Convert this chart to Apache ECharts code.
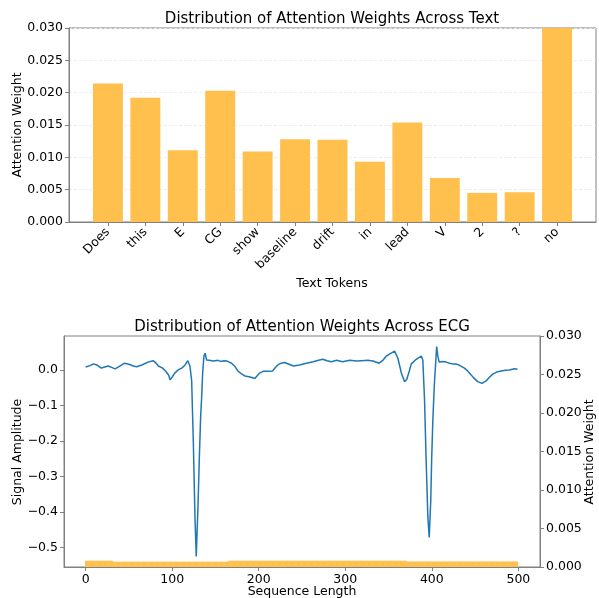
<!DOCTYPE html>
<html>
<head>
<meta charset="utf-8">
<script src="https://cdn.jsdelivr.net/npm/echarts@6/dist/echarts.min.js"></script>
<style>
  html, body { margin: 0; padding: 0; background: #ffffff; }
  #chart { width: 599px; height: 598px; }
</style>
</head>
<body>
<div id="chart"></div>
<script>
// ---- Text attention (top panel) ----
const tokens = ['Does', 'this', 'E', 'CG', 'show', 'baseline', 'drift', 'in', 'lead', 'V', '2', '?', 'no'];
const tokenWeights = [0.0214, 0.0192, 0.0111, 0.0203, 0.0109, 0.0128, 0.0127, 0.0093, 0.0154, 0.0068, 0.0045, 0.0046, 0.0452];
const tokenTicks = [0, 1, 2, 3, 4, 5, 6, 7, 8, 9, 10, 11, 12];
const weightTicks = [0, 0.005, 0.010, 0.015, 0.020, 0.025, 0.030];

// ---- ECG signal (bottom panel): [sample index, amplitude] ----
const ecgSamples = [
  [0, 0.008], [5, 0.012], [9, 0.017], [13, 0.014], [18, 0.005], [22, 0.008], [26, 0.011], [30, 0.007],
  [34, 0.003], [39, 0.010], [45, 0.019], [50, 0.016], [55, 0.011], [59, 0.009], [65, 0.014], [72, 0.022],
  [78, 0.026], [81, 0.020], [84, 0.011], [89, 0.005], [93, -0.005], [96, -0.015], [97.5, -0.028], [100, -0.020],
  [103, -0.009], [107, 0.000], [111, 0.005], [115, 0.014], [118, 0.026], [120.5, 0.011], [122.5, -0.030],
  [124.4, -0.200], [126.3, -0.413], [127.8, -0.526], [129.8, -0.385], [131.3, -0.254], [132.9, -0.131],
  [134, -0.080], [135.2, -0.009], [136.7, 0.040], [138, 0.047], [139.8, 0.028], [143, 0.027], [147, 0.025],
  [150, 0.026], [153, 0.027], [156, 0.024], [160, 0.026], [163, 0.025], [166, 0.022], [169, 0.018], [173, 0.008],
  [176, -0.003], [180, -0.011], [184, -0.017], [190, -0.020], [195.5, -0.024], [201, -0.009], [205, -0.004],
  [210, -0.004], [216, -0.003], [219, 0.006], [222, 0.014], [226, 0.019], [230, 0.021], [235, 0.016],
  [240, 0.011], [247, 0.014], [255, 0.019], [263, 0.023], [269, 0.027], [274, 0.030], [279, 0.026],
  [284, 0.023], [290, 0.027], [297, 0.023], [305, 0.027], [313, 0.025], [319, 0.026], [326, 0.027],
  [332, 0.025], [339, 0.019], [343, 0.026], [347, 0.038], [352, 0.046], [357, 0.053], [360.8, 0.033],
  [364.7, -0.008], [368.5, -0.033], [371, -0.027], [374, -0.003], [376.3, 0.017], [382, 0.030], [387.8, 0.039],
  [389.6, 0.028], [391.6, -0.085], [393.5, -0.260], [395.4, -0.413], [397, -0.472], [398.8, -0.366],
  [399.8, -0.254], [401.2, -0.140], [403, -0.038], [404.2, 0.010], [405.6, 0.066], [407, 0.038], [408.5, 0.022],
  [410, 0.024], [412.7, 0.024], [416.6, 0.022], [420.4, 0.019], [424, 0.017], [428, 0.017], [432, 0.013],
  [437.7, 0.005], [441, -0.002], [445.4, -0.014], [449, -0.024], [453, -0.033], [458, -0.038], [462.7, -0.031],
  [466, -0.022], [470.4, -0.012], [475, -0.006], [480, -0.003], [485, -0.001], [489.6, 0.000], [495.4, 0.003],
  [499, 0.002]
];
// attention per sequence position, stored as runs: [first index, last index, weight]
const seqAttentionRuns = [
  [0, 31, 0.00080],
  [32, 164, 0.00068],
  [165, 370, 0.00080],
  [371, 499, 0.00070]
];
const seqTicks = [0, 100, 200, 300, 400, 500];
const amplitudeTicks = [-0.5, -0.4, -0.3, -0.2, -0.1, 0.0];

// expand the attention runs into one bar per sequence position
const seqAttention = [];
seqAttentionRuns.forEach(([a, b, w]) => {
  for (let i = a; i <= b; i++) seqAttention.push([i, w]);
});

const FONT = 'DejaVu Sans';
const SPINE = '#808080';
const BAR_COLOR = 'rgb(255, 192, 77)';
const LINE_COLOR = '#1f77b4';
const TICK_FS = 12.5;

const minusFmt = (v, digits) => v.toFixed(digits).replace('-', '\u2212');

function axisBase() {
  return {
    axisLine: { show: true, onZero: false, lineStyle: { color: SPINE, width: 1 } },
    axisTick: { show: true, length: 4, inside: false, lineStyle: { color: SPINE, width: 1 } },
    axisLabel: { color: '#000', fontFamily: FONT, fontSize: TICK_FS },
    splitLine: { show: false }
  };
}

function label(text, x, y, rot, size) {
  return {
    type: 'text', x: x, y: y, rotation: rot || 0,
    style: {
      text: text, fill: '#000', font: (size || TICK_FS) + 'px "' + FONT + '"',
      align: 'center', verticalAlign: 'middle'
    }
  };
}

const chart = echarts.init(document.getElementById('chart'), null, { renderer: 'canvas' });

const option = {
  animation: false,
  backgroundColor: '#ffffff',
  grid: [
    { left: 69, right: 3, top: 28, bottom: 376, show: true, borderColor: SPINE, borderWidth: 1,
      backgroundColor: 'transparent', containLabel: false, outerBoundsMode: 'none' },
    { left: 64, right: 59, top: 336, bottom: 31, show: true, borderColor: SPINE, borderWidth: 1,
      backgroundColor: 'transparent', containLabel: false, outerBoundsMode: 'none' }
  ],
  xAxis: [
    Object.assign(axisBase(), {
      type: 'value', gridIndex: 0, min: -1.04, max: 13.04,
      axisTick: { show: true, length: 4, customValues: tokenTicks, lineStyle: { color: SPINE } },
      axisLabel: { color: '#000', fontFamily: FONT, fontSize: TICK_FS, rotate: 45, margin: 8,
        customValues: tokenTicks, formatter: v => tokens[Math.round(v)] }
    }),
    Object.assign(axisBase(), {
      type: 'value', gridIndex: 1, min: -25, max: 525,
      axisTick: { show: true, length: 4, customValues: seqTicks, lineStyle: { color: SPINE } },
      axisLabel: { color: '#000', fontFamily: FONT, fontSize: TICK_FS, margin: 6,
        customValues: seqTicks, formatter: v => String(Math.round(v)) }
    })
  ],
  yAxis: [
    Object.assign(axisBase(), {
      type: 'value', gridIndex: 0, min: 0, max: 0.03, interval: 0.005,
      axisLabel: { color: '#000', fontFamily: FONT, fontSize: TICK_FS, margin: 6,
        formatter: v => v.toFixed(3) },
      splitLine: { show: true, lineStyle: { color: '#e8e8e8', type: [3, 2], width: 0.8 } }
    }),
    Object.assign(axisBase(), {
      type: 'value', gridIndex: 1, min: -0.5556, max: 0.0956,
      axisTick: { show: true, length: 4, customValues: amplitudeTicks, lineStyle: { color: SPINE } },
      axisLabel: { color: '#000', fontFamily: FONT, fontSize: TICK_FS, margin: 6,
        customValues: amplitudeTicks, formatter: v => minusFmt(v, 1) }
    }),
    Object.assign(axisBase(), {
      type: 'value', gridIndex: 1, position: 'right', min: 0, max: 0.03, interval: 0.005,
      axisLabel: { color: '#000', fontFamily: FONT, fontSize: TICK_FS, margin: 6,
        formatter: v => v.toFixed(3) }
    })
  ],
  series: [
    {
      type: 'bar', xAxisIndex: 0, yAxisIndex: 0, barWidth: '80%', clip: true,
      itemStyle: { color: BAR_COLOR },
      data: tokenWeights.map((w, i) => [tokenTicks[i], w])
    },
    {
      type: 'line', xAxisIndex: 1, yAxisIndex: 1, showSymbol: false, smooth: false,
      lineStyle: { color: LINE_COLOR, width: 1.5 },
      data: ecgSamples
    },
    {
      // neighbouring bars overlap slightly so the band reads as one solid strip
      type: 'bar', xAxisIndex: 1, yAxisIndex: 2, barWidth: '160%', clip: true,
      itemStyle: { color: BAR_COLOR },
      data: seqAttention
    }
  ],
  graphic: [
    label('Distribution of Attention Weights Across Text', 332, 19, 0, 15),
    label('Attention Weight', 18, 125, Math.PI / 2),
    label('Text Tokens', 332, 284),
    label('Distribution of Attention Weights Across ECG', 302, 327, 0, 15),
    label('Signal Amplitude', 18, 452, Math.PI / 2),
    label('Attention Weight', 590, 452, Math.PI / 2),
    label('Sequence Length', 302, 592)
  ]
};

chart.setOption(option);
</script>
</body>
</html>
